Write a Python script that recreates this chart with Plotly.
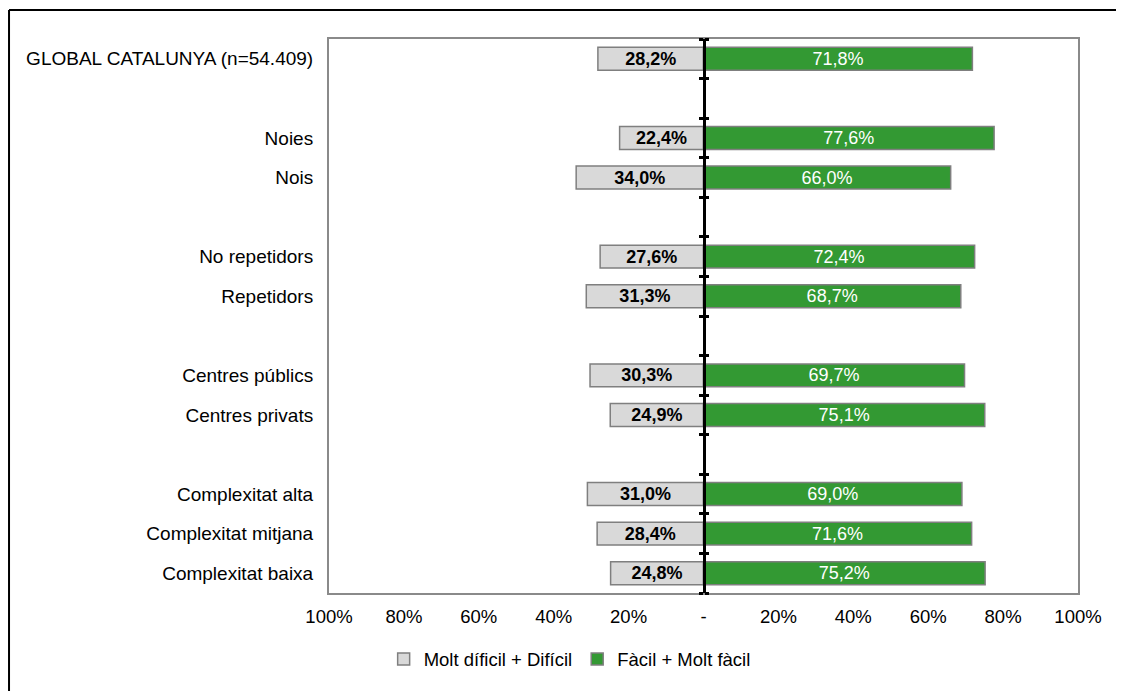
import plotly.graph_objects as go

# Row labels, with blank spacer rows between the groups
rows = [
    "GLOBAL CATALUNYA (n=54.409)", " ",
    "Noies", "Nois", "  ",
    "No repetidors", "Repetidors", "   ",
    "Centres públics", "Centres privats", "    ",
    "Complexitat alta", "Complexitat mitjana", "Complexitat baixa",
]
categories = [
    "GLOBAL CATALUNYA (n=54.409)",
    "Noies", "Nois",
    "No repetidors", "Repetidors",
    "Centres públics", "Centres privats",
    "Complexitat alta", "Complexitat mitjana", "Complexitat baixa",
]
dificil = [28.2, 22.4, 34.0, 27.6, 31.3, 30.3, 24.9, 31.0, 28.4, 24.8]
facil = [71.8, 77.6, 66.0, 72.4, 68.7, 69.7, 75.1, 69.0, 71.6, 75.2]
x_ticks = [-100, -80, -60, -40, -20, 0, 20, 40, 60, 80, 100]

FONT = "Liberation Sans, Arial, sans-serif"
GRAY = "#d9d9d9"
GREEN = "#339933"
EDGE = "#7f7f7f"


def pct(v):
    return f"{v:.1f}%".replace(".", ",")


fig = go.Figure()

fig.add_trace(go.Bar(
    y=categories, x=[-v for v in dificil], orientation="h",
    name="Molt díficil + Difícil",
    marker=dict(color=GRAY, line=dict(color=EDGE, width=1.5)),
    text=[pct(v) for v in dificil], textposition="inside",
    insidetextanchor="middle", constraintext="none",
    textfont=dict(family=FONT, size=18, color="black", weight="bold"),
    width=0.58, hoverinfo="skip",
))
fig.add_trace(go.Bar(
    y=categories, x=facil, orientation="h",
    name="Fàcil + Molt fàcil",
    marker=dict(color=GREEN, line=dict(color=EDGE, width=1.5)),
    text=[pct(v) for v in facil], textposition="inside",
    insidetextanchor="middle", constraintext="none",
    textfont=dict(family=FONT, size=18, color="white"),
    width=0.58, hoverinfo="skip",
))

# empty traces so the central tick axes get drawn
bounds = [i - 0.5 for i in range(len(rows) + 1)]
for ax in ("y2", "y3"):
    fig.add_trace(go.Scatter(x=[None], y=[None], yaxis=ax, showlegend=False,
                             hoverinfo="skip"))

fig.update_layout(
    width=1116, height=683,
    margin=dict(l=321, r=46, t=31, b=96),
    paper_bgcolor="white", plot_bgcolor="white",
    font=dict(family=FONT, size=18, color="black"),
    barmode="relative",
    showlegend=True,
    legend=dict(
        orientation="h", x=0.3213, xanchor="center", y=-0.12, yanchor="middle",
        font=dict(size=18.5), traceorder="normal", itemwidth=30,
    ),
    xaxis=dict(
        range=[-100, 100], tickvals=x_ticks,
        ticktext=[f"{abs(v)}%" if v else "-" for v in x_ticks],
        showgrid=False, zeroline=False,
        showline=True, mirror=True, linecolor="#8a8a8a", linewidth=2,
        ticks="", ticklabelstandoff=6, tickfont=dict(size=18.5),
        automargin=False,
    ),
    yaxis=dict(
        type="category", categoryorder="array", categoryarray=rows,
        range=[len(rows) - 0.5, -0.5],
        showgrid=False, zeroline=False,
        showline=True, mirror=True, linecolor="#8a8a8a", linewidth=2,
        ticks="", ticklabelstandoff=10, tickfont=dict(size=19),
        automargin=False,
    ),
    yaxis2=dict(
        overlaying="y", anchor="free", position=0.5, side="left",
        range=[len(rows) - 0.5, -0.5], tickvals=bounds,
        showticklabels=False, ticks="outside", ticklen=4, tickwidth=3,
        tickcolor="black", showline=True, linecolor="black", linewidth=3,
        showgrid=False, zeroline=False,
    ),
    yaxis3=dict(
        overlaying="y", anchor="free", position=0.5, side="right",
        range=[len(rows) - 0.5, -0.5], tickvals=bounds,
        showticklabels=False, ticks="outside", ticklen=4, tickwidth=3,
        tickcolor="black", showline=False,
        showgrid=False, zeroline=False,
    ),
)

# outer frame (only top and left edges visible in the original crop)
fig.add_shape(type="line", xref="paper", yref="paper",
              x0=-0.4272, x1=-0.4272, y0=1.0522, y1=-0.3,
              line=dict(color="black", width=2))
fig.add_shape(type="line", xref="paper", yref="paper",
              x0=-0.4272, x1=1.2, y0=1.0522, y1=1.0522,
              line=dict(color="black", width=2))

fig.write_html("out.html")
